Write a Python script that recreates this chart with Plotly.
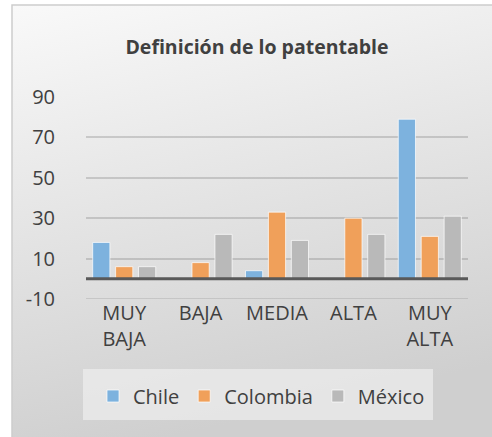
import base64
import plotly.graph_objects as go

# Data
categories = ["MUY<br>BAJA", "BAJA", "MEDIA", "ALTA", "MUY<br>ALTA"]
chile = [18, 0, 4, 0, 79]
colombia = [6, 8, 33, 30, 21]
mexico = [6, 22, 19, 22, 31]
y_ticks = [-10, 10, 30, 50, 70, 90]
y_tick_text = ["-10", "10", "30", "50", "70", "90"]

series = [
    ("Chile", chile, "rgb(125,178,222)"),
    ("Colombia", colombia, "rgb(240,160,90)"),
    ("México", mexico, "rgb(185,185,185)"),
]

W, H = 492, 437
ML, MR, MT, MB = 86, 24, 97, 138
PW, PH = W - ML - MR, H - MT - MB


def px_x(p):
    return (p - ML) / PW


def px_y(p):
    return (H - MB - p) / PH


FONT = "Open Sans"
TXT = "#404040"
GRID = "rgba(120,120,120,0.3)"

fig = go.Figure()
for name, vals, col in series:
    fig.add_trace(go.Bar(
        name=name, x=categories, y=vals,
        marker=dict(color=col,
                    line=dict(color="rgba(255,255,255,0.7)",
                              width=[1 if v else 0 for v in vals])),
    ))

# soft grey gradient chart area
svg = (
    '<svg xmlns="http://www.w3.org/2000/svg" width="480" height="432" preserveAspectRatio="none">'
    '<defs><linearGradient id="g" x1="0" y1="0" x2="0.25" y2="1">'
    '<stop offset="0" stop-color="#f9f9f9"/><stop offset="1" stop-color="#cfcfcf"/>'
    '</linearGradient></defs><rect width="480" height="432" fill="url(#g)"/></svg>'
)
src = "data:image/svg+xml;base64," + base64.b64encode(svg.encode()).decode()

fig.update_layout(
    width=W, height=H, autosize=False,
    margin=dict(l=ML, r=MR, t=MT, b=MB, pad=0),
    paper_bgcolor="white", plot_bgcolor="rgba(0,0,0,0)",
    font=dict(family=FONT, color=TXT, size=20),
    barmode="group", bargap=0.1, bargroupgap=0.25,
    title=dict(text="<b>Definición de lo patentable</b>",
               font=dict(family=FONT, size=19.5, color=TXT),
               x=px_x(257), xref="paper", xanchor="center",
               y=1 - 47 / H, yanchor="middle"),
    images=[dict(source=src, xref="paper", yref="paper",
                 x=px_x(12), y=px_y(5), sizex=490 / PW, sizey=440 / PH,
                 xanchor="left", yanchor="top", sizing="stretch", layer="below")],
    shapes=[
        dict(type="rect", xref="paper", yref="paper", layer="below",
             x0=px_x(12), x1=px_x(510), y0=px_y(5), y1=px_y(450),
             line=dict(color="#cdcdcd", width=1.5), fillcolor="rgba(0,0,0,0)"),
        dict(type="rect", xref="paper", yref="paper", layer="below",
             x0=px_x(83), x1=px_x(433), y0=px_y(369), y1=px_y(420),
             line=dict(width=0), fillcolor="rgba(236,236,236,0.75)"),
        # bottom gridline at the axis minimum
        dict(type="line", xref="paper", yref="y", layer="below",
             x0=0, x1=1, y0=y_ticks[0], y1=y_ticks[0], line=dict(color=GRID, width=1.5)),
        # baseline drawn over the bar bottoms
        dict(type="line", xref="paper", yref="y", layer="above",
             x0=0, x1=1, y0=0, y1=0, line=dict(color="#595959", width=3)),
    ],
    showlegend=True,
    legend=dict(orientation="h", x=px_x(93), xanchor="left",
                y=px_y(396), yanchor="middle",
                bgcolor="rgba(0,0,0,0)", font=dict(family=FONT, size=20, color=TXT),
                traceorder="normal"),
)

fig.update_xaxes(showgrid=False, showline=False, ticks="",
                 tickfont=dict(family=FONT, size=20, color=TXT))
fig.update_yaxes(range=[-10, 90], tickvals=y_ticks, ticktext=y_tick_text, showgrid=True,
                 gridcolor=GRID, gridwidth=1.5,
                 zeroline=False,
                 showline=False, ticks="outside", ticklen=26, tickcolor="rgba(0,0,0,0)",
                 tickfont=dict(family=FONT, size=20, color=TXT))

fig.write_html("out.html")
